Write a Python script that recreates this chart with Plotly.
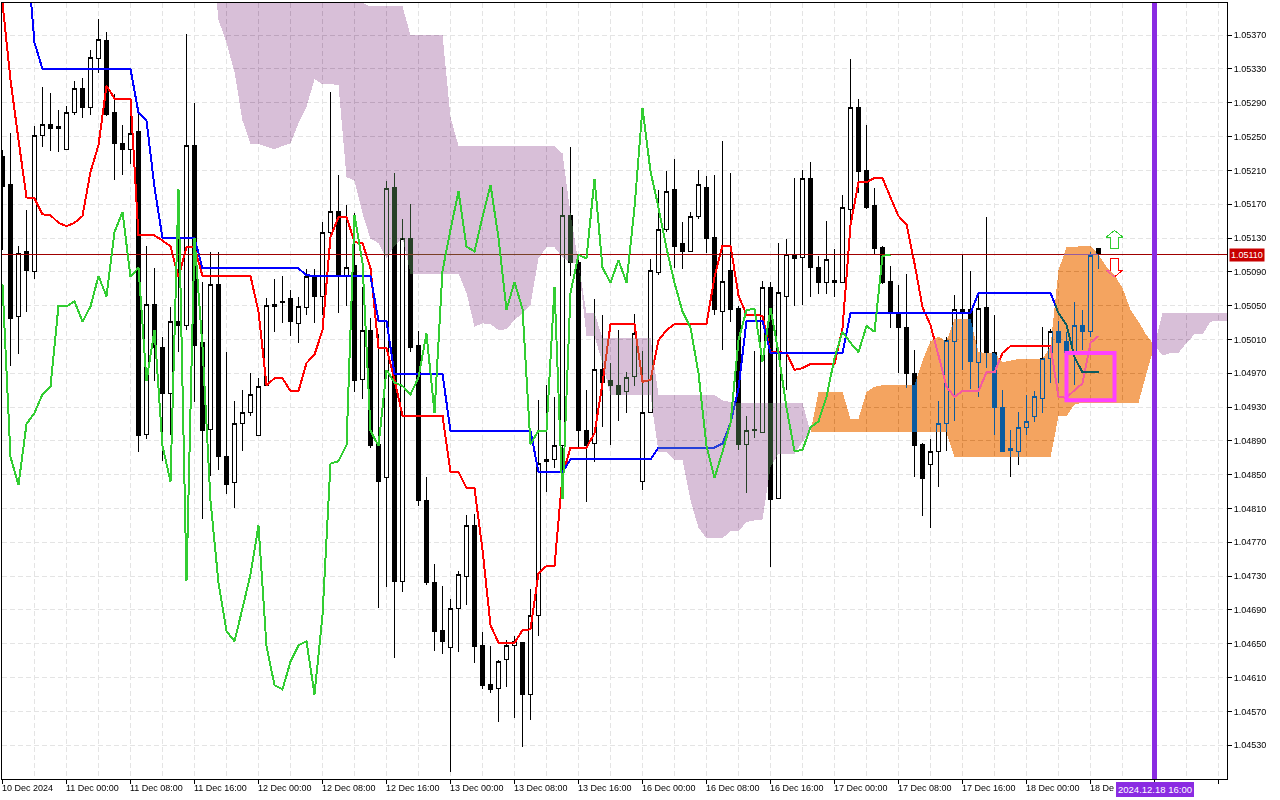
import plotly.graph_objects as go

# EURUSD H1, all prices in points (1e-5)
opens = [105226,105193,105037,105114,105090,105251,105264,105262,105235,105279,
         105307,105284,105342,105364,105278,105242,105235,105256,104898,105051,
         105001,104946,105031,105026,105239,105006,104904,105075,104872,104841,
         104911,104923,104896,104955,105051,105054,105059,105029,105048,105085,
         105061,105136,105161,105084,105097,104963,105021,104886,104847,105190,
         104724,105130,105003,104820,104723,104666,104646,104692,104730,104790,
         104648,104602,104597,104631,104648,104652,104590,104684,104868,104868,
         104885,105157,105101,104902,104887,104975,104961,104955,104949,104966,
         104842,104923,105089,105140,105187,105123,105114,105155,105190,105131,
         105043,105091,105047,104886,104904,104900,105071,104822,105061,105109,
         105107,105200,105095,105077,105080,105077,105164,105284,105210,105168,
         105119,105079,105041,105024,104970,104886,104862,104877,104911,105008,
         105043,105046,104983,105048,104994,104930,104881,104878,104906,104919,
         104940,104988,105019,105007,104995,105027,105019,105117]
highs = [105234,105254,105121,105163,105263,105309,105301,105282,105286,105316,
         105319,105352,105389,105374,105300,105264,105274,105278,105121,105094,
         105013,105048,105136,105371,105290,105078,105114,105114,104995,104937,
         104950,104970,104964,105059,105082,105085,105069,105060,105093,105093,
         105149,105303,105204,105169,105160,105072,105035,105017,105198,105207,
         105152,105170,105020,104847,104744,104718,104703,104736,104802,104803,
         104664,104647,104631,104654,104659,104652,104715,104938,104956,104942,
         105190,105238,105106,104950,105058,105039,104982,105021,104971,105040,
         104996,105105,105187,105209,105224,105149,105161,105210,105203,105205,
         105245,105207,105049,104920,104996,105079,105078,105124,105129,105201,
         105211,105220,105109,105150,105117,105181,105342,105295,105264,105189,
         105120,105097,105074,105087,104998,104887,104892,104937,105013,105062,
         105110,105091,105064,105155,105039,104950,104903,104924,104944,104949,
         105025,105022,105032,105019,105054,105045,105113,105117]
lows = [105116,104979,104993,105043,105082,105238,105233,105232,105235,105275,
        105272,105276,105325,105274,105199,105205,105218,104877,104892,104961,
        104866,104897,104995,105021,104936,104798,104848,104856,104827,104811,
        104878,104919,104896,104955,105019,105029,105014,105006,105039,105029,
        105039,105130,105041,105050,104948,104940,104881,104692,104717,104633,
        104711,104995,104813,104719,104642,104638,104498,104640,104696,104627,
        104596,104592,104558,104599,104562,104528,104560,104659,104829,104858,
        104823,105085,104880,104818,104865,104907,104885,104913,104923,104955,
        104832,104923,105086,105137,105094,105093,105114,105152,105112,105039,
        104997,105031,104879,104828,104893,104900,104741,104822,104950,105050,
        105051,105060,105064,105064,105060,105077,105151,105183,105164,105110,
        105075,105024,104970,104952,104847,104801,104787,104835,104878,104914,
        104974,104951,104942,104976,104897,104877,104847,104862,104897,104912,
        104923,104959,104958,104962,104956,104997,105013,105093]
closes = [105191,105035,105112,105091,105251,105264,105259,105260,105279,105307,
          105284,105343,105365,105276,105242,105235,105254,104896,105051,105001,
          104946,105031,105026,105239,105003,104902,105075,104871,104838,104910,
          104923,104945,104954,105050,105049,105055,105031,105049,105085,105061,
          105137,105161,105084,105095,104961,105021,104884,104842,105188,104724,
          105130,105001,104819,104722,104665,104653,104692,104732,104790,104647,
          104601,104596,104629,104648,104653,104590,104684,104863,104866,104885,
          105157,105101,104902,104884,104974,104959,104955,104945,104965,105017,
          104923,105091,105140,105185,105120,105114,105155,105193,105130,105045,
          105078,105046,104886,104902,104902,105072,104821,105065,105110,105106,
          105200,105095,105077,105104,105077,105166,105284,105209,105166,105118,
          105077,105043,105024,104970,104884,104846,104877,104911,105009,105045,
          105046,104984,105047,104994,104929,104878,104879,104906,104913,104942,
          104988,105019,105006,104995,105026,105019,105109,105110]

# ichimoku lines
tenkan = [105408,105317,105246,105178,105177,105158,105157,105148,105144,105148,
          105156,105208,105240,105310,105295,105295,105295,105133,105133,105133,
          105127,105120,105084,105119,105119,105085,105085,105085,105085,105085,
          105085,105085,105043,104956,104964,104964,104949,104949,104982,104992,
          105021,105131,105155,105155,105125,105124,105094,105000,105000,104962,
          104920,104920,104920,104920,104920,104920,104853,104853,104834,104834,
          104761,104672,104651,104651,104651,104666,104667,104733,104742,104742,
          104849,104882,104882,104882,104899,104958,105028,105028,105028,105028,
          104960,104962,105009,105021,105028,105028,105028,105028,105028,105084,
          105121,105121,105062,105039,105039,105038,104995,104995,104994,104974,
          104976,104981,104981,104981,104981,105023,105145,105196,105196,105201,
          105201,105178,105156,105146,105100,105048,105027,104991,104954,104942,
          104949,104949,104949,104971,104971,104994,105002,105002,105002,105002,
          105002,105002,104942,104941,104950,104958,105006,105014]
kijun = [None,None,None,105476,105361,105330,105330,105330,105330,105330,
         105330,105330,105330,105330,105330,105330,105330,105278,105269,105190,
         105130,105130,105130,105130,105130,105094,105094,105094,105094,105094,
         105094,105094,105094,105094,105094,105094,105094,105094,105086,105085,
         105085,105085,105085,105085,105085,105085,105085,105032,105032,104969,
         104969,104969,104969,104969,104969,104969,104902,104902,104902,104902,
         104902,104902,104902,104902,104902,104902,104902,104853,104853,104853,
         104853,104868,104868,104868,104868,104868,104868,104868,104868,104868,
         104868,104868,104882,104882,104882,104882,104882,104882,104882,104882,
         104887,104911,104952,105032,105032,105032,104994,104994,104994,104994,
         104994,104994,104994,104994,104994,104994,105041,105041,105041,105041,
         105041,105041,105041,105041,105041,105041,105041,105041,105041,105041,
         105041,105041,105065,105065,105065,105065,105065,105065,105065,105065,
         105065,105065,105041,105027,104989,104971,104971,104971]
chikou = [105075,104871,104838,104910,104923,104945,104954,105050,105049,105055,
          105031,105049,105085,105061,105137,105161,105084,105095,104961,105021,
          104884,104842,105188,104724,105130,105001,104819,104722,104665,104653,
          104692,104732,104790,104647,104601,104596,104629,104648,104653,104590,
          104684,104863,104866,104885,105157,105101,104902,104884,104974,104959,
          104955,104945,104965,105017,104923,105091,105140,105185,105120,105114,
          105155,105193,105130,105045,105078,105046,104886,104902,104902,105072,
          104821,105065,105110,105106,105200,105095,105077,105104,105077,105166,
          105284,105209,105166,105118,105077,105043,105024,104970,104884,104846,
          104877,104911,105009,105045,105046,104984,105047,104994,104929,104878,
          104879,104906,104913,104942,104988,105019,105006,104995,105026,105019,
          105109,105110]

# cloud pieces, first bar of each piece is its start index
cloud1_start = 26
cloud1_top = [105482,105435,105435,105435,105435,105435,105435,105435,105435,105435,
              105435,105435,105435,105435,105435,105435,105435,105435,105435,105408,
              105404,105404,105404,105404,105404,105370,105370,105370,105370,105370,
              105273,105239,105239,105239,105239,105239,105239,105239,105239,105239,
              105239,105239,105239,105239,105230,105159,105100]
cloud1_bot = [105482,105388,105361,105326,105269,105241,105241,105238,105235,105239,
              105242,105266,105285,105318,105312,105312,105311,105202,105198,105159,
              105129,105124,105106,105121,105130,105088,105088,105088,105088,105088,
              105088,105088,105065,105025,105029,105028,105021,105022,105033,105041,
              105051,105106,105119,105119,105107,105101,105100]
cloud2_start = 72
cloud2_top = [105100,105041,105041,105012,105012,105012,105012,105012,105012,105012,
              104944,104944,104944,104944,104944,104944,104944,104944,104938,104936,
              104935,104935,104935,104935,104935,104935,104935,104935,104935,104900]
cloud2_bot = [105100,105014,105014,104982,104944,104944,104944,104944,104944,104944,
              104877,104877,104867,104867,104820,104787,104775,104775,104775,104783,
              104783,104794,104796,104797,104859,104875,104875,104875,104889,104900]
cloud3_start = 101
cloud3_top = [104900,104948,104948,104948,104948,104916,104916,104948,104954,104956,
              104956,104956,104956,104956,104985,105008,105013,105008,105034,105034,
              105034,104995,104994,104994,104983,104985,104987,104987,104987,104987,
              105002,105092,105119,105119,105121,105121,105110,105096,105086,105071,
              105045,105031,105015,105003]
cloud3_bot = [104900,104900,104900,104900,104900,104900,104900,104900,104900,104900,
              104900,104900,104900,104900,104900,104900,104900,104900,104871,104871,
              104871,104871,104871,104871,104871,104871,104871,104871,104871,104871,
              104871,104919,104919,104933,104935,104935,104935,104935,104935,104935,
              104935,104935,104970,105003]
cloud4_start = 144
cloud4_top = [105003,105041,105041,105041,105041,105041,105041,105041,105041,105041]
cloud4_bot = [105003,104991,104994,104994,105006,105016,105016,105031,105032,105032]

bid = 105110

price_ticks = [105370,105330,105290,105250,105210,105170,105130,105090,105050,105010,104970,
               104930,104890,104850,104810,104770,104730,104690,104650,104610,104570,104530]
# the last label runs under the date flag in the terminal, only "18 De" shows
time_labels = ["10 Dec 2024","11 Dec 00:00","11 Dec 08:00","11 Dec 16:00","12 Dec 00:00","12 Dec 08:00",
               "12 Dec 16:00","13 Dec 00:00","13 Dec 08:00","13 Dec 16:00","16 Dec 00:00","16 Dec 08:00",
               "16 Dec 16:00","17 Dec 00:00","17 Dec 08:00","17 Dec 16:00","18 Dec 00:00","18 De"]


def px(values):
    return [None if v is None else v / 1e5 for v in values]


def cloud(start, top, bot, color):
    # closed polygon, drawn in difference mode so it inverts what lies below (terminal XOR look)
    bars = list(range(start, start + len(top)))
    return go.Scatter(x=bars + bars[::-1], y=px(top + bot[::-1]), mode="none", fill="toself",
                      fillcolor=color, hoverinfo="skip")


def arrow(bar, tip, sign, color):
    # hollow arrow, sign +1 points up
    wing = tip - sign * 0.00008
    foot = tip - sign * 0.00022
    xs = [bar, bar + 1.05, bar + 0.45, bar + 0.45, bar - 0.45, bar - 0.45, bar - 1.05, bar]
    ys = [tip, wing, wing, foot, foot, wing, wing, tip]
    return go.Scatter(x=xs, y=ys, mode="lines", fill="toself", fillcolor="white",
                      line=dict(color=color, width=1), hoverinfo="skip")


bars = list(range(len(closes)))
THISTLE_INV = "#274027"
SANDY_INV = "#0B5B9F"

fig = go.Figure()
fig.add_trace(go.Candlestick(
    x=bars, open=px(opens), high=px(highs), low=px(lows), close=px(closes),
    increasing=dict(line=dict(color="black", width=1), fillcolor="white"),
    decreasing=dict(line=dict(color="black", width=1), fillcolor="black"),
    whiskerwidth=0,
))
fig.add_trace(go.Scatter(x=bars, y=px(tenkan), mode="lines", line=dict(color="#FF0000", width=2)))
fig.add_trace(go.Scatter(x=bars, y=px(kijun), mode="lines", line=dict(color="#0000FF", width=2)))
fig.add_trace(go.Scatter(x=[-1, 154], y=px([bid, bid]), mode="lines", line=dict(color="#A00000", width=1)))
fig.add_trace(arrow(139, 1.05139, 1, "#32CD32"))
fig.add_trace(arrow(139, 1.05084, -1, "#FF0000"))
fig.add_trace(cloud(cloud1_start, cloud1_top, cloud1_bot, THISTLE_INV))
fig.add_trace(cloud(cloud2_start, cloud2_top, cloud2_bot, THISTLE_INV))
fig.add_trace(cloud(cloud3_start, cloud3_top, cloud3_bot, SANDY_INV))
fig.add_trace(cloud(cloud4_start, cloud4_top, cloud4_bot, THISTLE_INV))
fig.add_trace(go.Scatter(x=list(range(len(chikou))), y=px(chikou), mode="lines",
                         line=dict(color="#32CD32", width=2)))

# selection box and the vertical date line
fig.add_shape(type="rect", x0=133, x1=139, y0=1.04938, y1=1.04994, line=dict(color="#FF40FF", width=4))
fig.add_shape(type="line", x0=144, x1=144, y0=0, y1=1, yref="paper", line=dict(color="#8A2BE2", width=5))

font = dict(family="Liberation Sans", size=9, color="black")
for i, label in enumerate(time_labels):
    fig.add_annotation(x=i * 8, y=0, yref="paper", text=label, showarrow=False, xanchor="left", yanchor="top",
                       yshift=-2, xshift=-3, font=font)
fig.add_annotation(x=144, y=0, yref="paper", text="2024.12.18 16:00", showarrow=False, xanchor="center",
                   yanchor="top", yshift=-3, font=dict(family="Liberation Sans", size=9.5, color="white"),
                   bgcolor="#8A2BE2", borderpad=2, borderwidth=0)
fig.add_annotation(x=1, xref="paper", y=bid / 1e5, text=f"{bid / 1e5:.5f}", showarrow=False, xanchor="left",
                   xshift=2, font=dict(family="Liberation Sans", size=9, color="white"), bgcolor="#C80000",
                   borderpad=1)

grid = "#E4E4E4"
fig.update_xaxes(
    range=[-0.0625, 153.0625], tickmode="array", tickvals=list(range(0, 154, 8)), showticklabels=False,
    ticks="outside", ticklen=4, tickcolor="black", showgrid=True, gridcolor=grid, griddash="5px,3px",
    minor=dict(tickvals=list(range(4, 154, 8)), showgrid=True, gridcolor=grid, griddash="5px,3px", ticks=""),
    showline=True, mirror=True, linecolor="black", linewidth=1, zeroline=False, rangeslider=dict(visible=False),
)
fig.update_yaxes(
    range=[1.04490, 1.05408], side="right", tickmode="array", tickvals=px(price_ticks), tickformat=".5f",
    ticks="outside", ticklen=4, tickcolor="black", tickfont=font, showgrid=True, gridcolor=grid,
    griddash="5px,3px", showline=True, mirror=True, linecolor="black", linewidth=1, zeroline=False,
)
fig.update_layout(
    width=1280, height=800, margin=dict(l=2, r=53, t=3, b=21), showlegend=False,
    paper_bgcolor="white", plot_bgcolor="white", hovermode=False,
)

blend_js = """
document.body.style.margin = '0';
var plot = document.querySelector('.scatterlayer').parentNode;
var clip = plot.getAttribute('clip-path');
plot.removeAttribute('clip-path');
plot.querySelectorAll('.trace').forEach(function (t) { t.setAttribute('clip-path', clip); });
var lines = plot.querySelectorAll('.scatterlayer .trace');
[5, 6, 7, 8].forEach(function (i) { lines[i].style.mixBlendMode = 'difference'; });
plot.querySelectorAll('.js-line, .js-fill, .boxes path').forEach(function (p) { p.style.shapeRendering = 'crispEdges'; });
"""

fig.write_html("out.html", post_script=blend_js, config={"displayModeBar": False})
